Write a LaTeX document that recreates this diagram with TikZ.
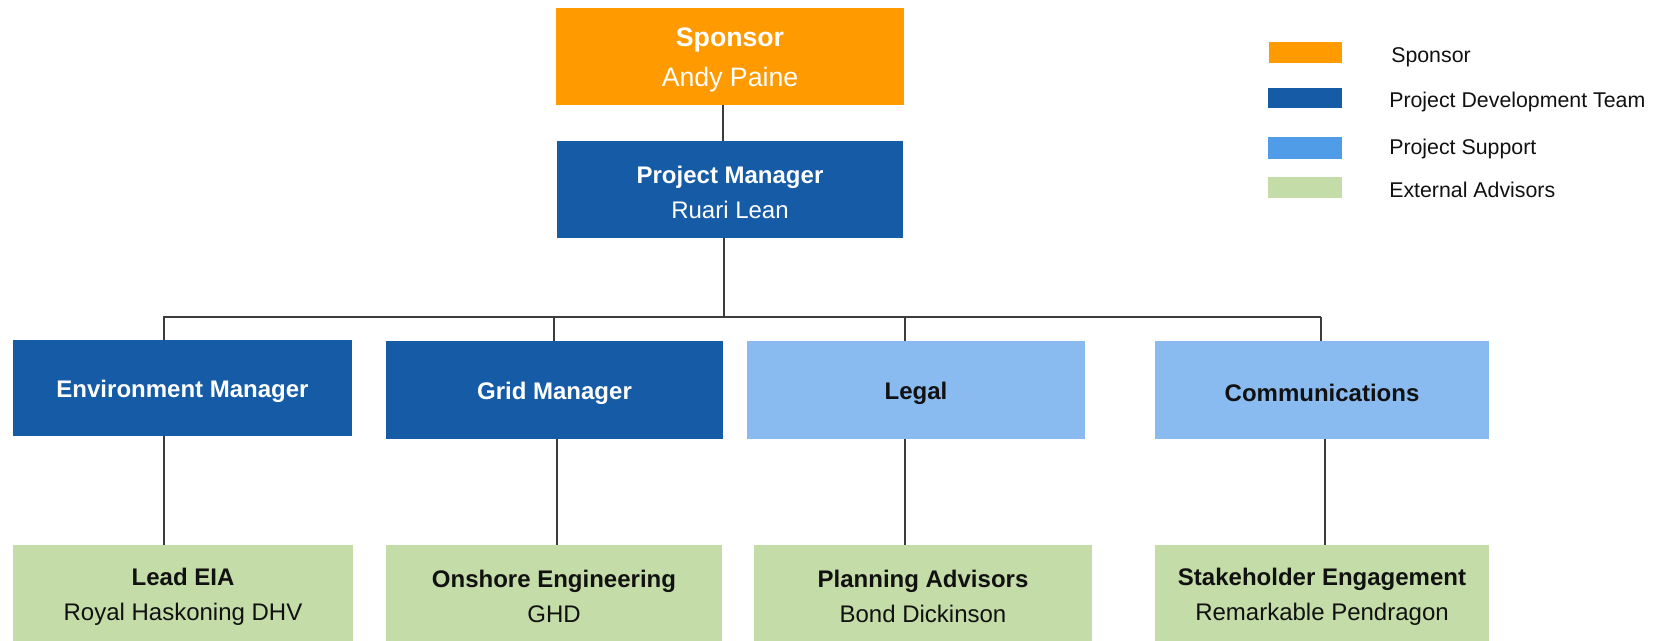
\documentclass[tikz,border=0pt]{standalone}
\usepackage{fontspec}
\setmainfont{Liberation Sans}
\usetikzlibrary{calc}
\definecolor{sporange}{HTML}{FF9A00}
\definecolor{pdtblue}{HTML}{165BA6}
\definecolor{supblue}{HTML}{8ABBF0}
\definecolor{supleg}{HTML}{509CE7}
\definecolor{extgreen}{HTML}{C4DCA8}
\definecolor{linegray}{HTML}{3C3C3C}
\definecolor{txtblack}{HTML}{111111}
\tikzset{
  box/.style={inner sep=0pt},
  sponsorbox/.style={box, fill=sporange},
  pdtbox/.style={box, fill=pdtblue},
  supbox/.style={box, fill=supblue},
  extbox/.style={box, fill=extgreen},
  boxtext/.style={inner sep=0pt, align=center, font=\fontsize{18}{26.25}\selectfont, yshift=-2.3pt},
  whitetext/.style={boxtext, text=white},
  blacktext/.style={boxtext, text=txtblack},
  conn/.style={draw=linegray, line width=1.1pt},
  legtext/.style={anchor=base west, inner sep=0pt, text=txtblack, font=\fontsize{16}{19}\selectfont},
  legswatch/.style={inner sep=0pt, minimum width=55.5pt},
}
\begin{document}
\begin{tikzpicture}[x=0.75pt, y=-0.75pt]
\useasboundingbox (0,0) rectangle (1670,640);
\clip (0,0) rectangle (1670,640);
\fill[white] (0,0) rectangle (1670,640);

% top
\node[sponsorbox, minimum width=261pt, minimum height=72.75pt] (sponsor) at (730,56.5) {};
\node[whitetext, font=\fontsize{20}{30}\selectfont] (sponsor-t) at (sponsor.center) {\textbf{Sponsor}\\Andy Paine};
\node[pdtbox, minimum width=259.5pt, minimum height=72.75pt] (pm) at (730,189.5) {};
\node[whitetext] (pm-t) at (pm.center) {\textbf{Project Manager}\\Ruari Lean};

% middle row
\node[pdtbox, minimum width=254.25pt, minimum height=72pt] (env) at (182.5,388) {};
\node[whitetext] (env-t) at (env.center) {\textbf{Environment Manager}};
\node[pdtbox, minimum width=252.75pt, minimum height=73.5pt] (grid) at (554.5,390) {};
\node[whitetext] (grid-t) at (grid.center) {\textbf{Grid Manager}};
\node[supbox, minimum width=253.5pt, minimum height=73.5pt] (legal) at (916,390) {};
\node[blacktext] (legal-t) at (legal.center) {\textbf{Legal}};
\node[supbox, minimum width=250.5pt, minimum height=73.5pt] (comm) at (1322,390) {};
\node[blacktext] (comm-t) at (comm.center) {\textbf{Communications}};

% bottom row
\node[extbox, minimum width=255pt, minimum height=72.75pt] (lead) at (183,593.5) {};
\node[blacktext] (lead-t) at (lead.center) {\textbf{Lead EIA}\\Royal Haskoning DHV};
\node[extbox, minimum width=252pt, minimum height=72.75pt] (onshore) at (554,593.5) {};
\node[blacktext] (onshore-t) at (onshore.center) {\textbf{Onshore Engineering}\\GHD};
\node[extbox, minimum width=253.5pt, minimum height=72.75pt] (planning) at (923,593.5) {};
\node[blacktext] (planning-t) at (planning.center) {\textbf{Planning Advisors}\\Bond Dickinson};
\node[extbox, minimum width=250.5pt, minimum height=72.75pt] (stake) at (1322,593.5) {};
\node[blacktext] (stake-t) at (stake.center) {\textbf{Stakeholder Engagement}\\Remarkable Pendragon};

% connector x positions
\coordinate (xS) at (723,0);
\coordinate (xP) at (724,0);
\coordinate (busL) at (163,317);
\coordinate (busR) at (1321,317);
\coordinate (tE) at (164,0);
\coordinate (tG) at (554,0);
\coordinate (tL) at (905,0);
\coordinate (dE) at (164,0);
\coordinate (dG) at (557,0);
\coordinate (dL) at (905,0);
\coordinate (dC) at (1325,0);

\draw[conn] (sponsor.south -| xS) -- (pm.north -| xS);
\draw[conn] (pm.south -| xP) -- (xP |- busL);
\draw[conn] (busL) -- (busR);
\draw[conn] (tE |- busL) -- (env.north -| tE);
\draw[conn] (tG |- busL) -- (grid.north -| tG);
\draw[conn] (tL |- busL) -- (legal.north -| tL);
\draw[conn] (busR) -- (comm.north -| busR);
\draw[conn] (env.south -| dE) -- (lead.north -| dE);
\draw[conn] (grid.south -| dG) -- (onshore.north -| dG);
\draw[conn] (legal.south -| dL) -- (planning.north -| dL);
\draw[conn] (comm.south -| dC) -- (stake.north -| dC);

% legend
\node[legswatch, fill=sporange, minimum width=54.75pt, minimum height=15.75pt] (lg1) at (1305.5,52.5) {};
\node[legswatch, fill=pdtblue, minimum height=15pt] (lg2) at (1305,98) {};
\node[legswatch, fill=supleg, minimum height=16.5pt] (lg3) at (1305,148) {};
\node[legswatch, fill=extgreen, minimum height=15.75pt] (lg4) at (1305,187.5) {};
\node[legtext] (lt1) at (1391,62) {Sponsor};
\node[legtext] (lt2) at (1389,107) {Project Development Team};
\node[legtext] (lt3) at (1389,154) {Project Support};
\node[legtext] (lt4) at (1389,197) {External Advisors};
\end{tikzpicture}
\end{document}
